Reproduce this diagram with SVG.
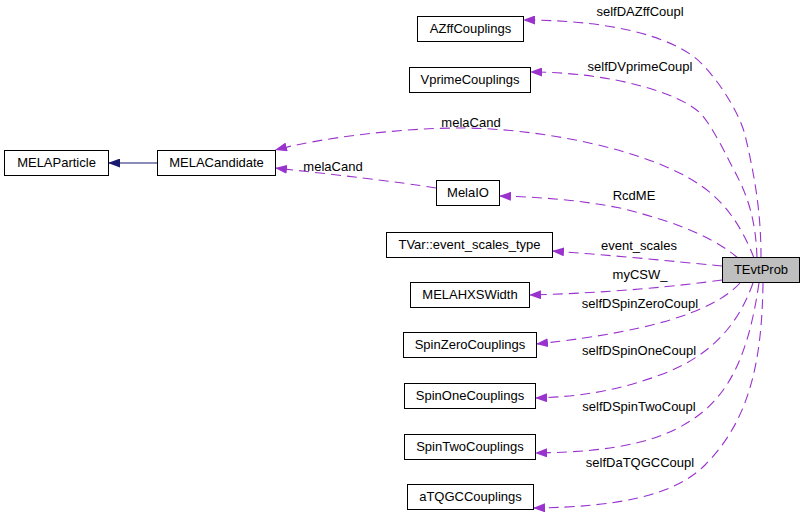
<svg xmlns="http://www.w3.org/2000/svg" width="805" height="516" viewBox="0 0 805 516">
<style>
  .box { fill: #ffffff; stroke: #000000; stroke-width: 1; }
  .root { fill: #bfbfbf; stroke: #000000; stroke-width: 1; }
  .nt { font-family: "Liberation Sans", Arial, sans-serif; font-size: 13px; fill: #000000; text-anchor: middle; }
  .lbl { font-family: "Liberation Sans", Arial, sans-serif; font-size: 13px; fill: #000000; text-anchor: middle; }
  .dep { fill: none; stroke: #9a32cd; stroke-width: 1.1; stroke-dasharray: 10,6; marker-end: url(#arrP); }
  .inh { fill: none; stroke: #191970; stroke-width: 1.1; marker-end: url(#arrB); }
</style>
<defs>
  <marker id="arrP" markerUnits="userSpaceOnUse" viewBox="0 0 12 9" refX="12" refY="4.5" markerWidth="12" markerHeight="9" orient="auto">
    <path d="M0,0 L12,4.5 L0,9 z" fill="#9a32cd" stroke="none"/>
  </marker>
  <marker id="arrB" markerUnits="userSpaceOnUse" viewBox="0 0 12 9" refX="12" refY="4.5" markerWidth="12" markerHeight="9" orient="auto">
    <path d="M0,0 L12,4.5 L0,9 z" fill="#191970" stroke="none"/>
  </marker>
</defs>

<g id="connectors">
  <path class="inh" d="M157,163 L108,163"/>
  <path class="dep" d="M761,258 C761,220 757,185 745,135 C740,115 722,85 703,65 C680,40 620,20 523,20"/>
  <path class="dep" d="M757,258 C756,225 750,200 735,172 C727,157 712,125 700,113 C680,93 610,72 530,72"/>
  <path class="dep" d="M754,258 C745,235 730,205 700,185 C650,150 540,128 460,128 C400,128 320,138 275,150"/>
  <path class="dep" d="M436,188 C400,182 330,174 275,168"/>
  <path class="dep" d="M738,258 C720,243 690,225 620,208 C580,200 540,197 499,196"/>
  <path class="dep" d="M722,266 C670,261 610,255 552,251"/>
  <path class="dep" d="M722,280 C680,286 610,293 529,295"/>
  <path class="dep" d="M740,283 C720,305 670,330 536,344"/>
  <path class="dep" d="M753,283 C740,320 715,355 660,375 C620,390 580,397 535,398"/>
  <path class="dep" d="M759,283 C752,330 740,380 705,410 C670,440 620,452 535,453"/>
  <path class="dep" d="M763,283 C762,360 750,420 705,465 C675,495 620,507 533,508"/>
  <text class="lbl" x="640" y="16">selfDAZffCoupl</text>
  <text class="lbl" x="640" y="71">selfDVprimeCoupl</text>
  <text class="lbl" x="471" y="127">melaCand</text>
  <text class="lbl" x="333" y="171">melaCand</text>
  <text class="lbl" x="634" y="200">RcdME</text>
  <text class="lbl" x="639" y="250">event_scales</text>
  <text class="lbl" x="640" y="279">myCSW_</text>
  <text class="lbl" x="640" y="308">selfDSpinZeroCoupl</text>
  <text class="lbl" x="639" y="355">selfDSpinOneCoupl</text>
  <text class="lbl" x="639" y="411">selfDSpinTwoCoupl</text>
  <text class="lbl" x="640" y="467">selfDaTQGCCoupl</text>
</g>

<g id="TEvtProb">
  <rect class="root" x="722.5" y="257.5" width="77" height="25"/>
  <text class="nt" x="761" y="274">TEvtProb</text>
</g>
<g id="AZffCouplings">
  <rect class="box" x="417.5" y="16.5" width="106" height="25"/>
  <text class="nt" x="470.5" y="33">AZffCouplings</text>
</g>
<g id="VprimeCouplings">
  <rect class="box" x="409.5" y="67.5" width="121" height="25"/>
  <text class="nt" x="470" y="84">VprimeCouplings</text>
</g>
<g id="MELAParticle">
  <rect class="box" x="4.5" y="150.5" width="104" height="25"/>
  <text class="nt" x="56.5" y="167">MELAParticle</text>
</g>
<g id="MELACandidate">
  <rect class="box" x="157.5" y="150.5" width="118" height="25"/>
  <text class="nt" x="216.5" y="167">MELACandidate</text>
</g>
<g id="MelaIO">
  <rect class="box" x="436.5" y="180.5" width="63" height="25"/>
  <text class="nt" x="468" y="197">MelaIO</text>
</g>
<g id="TVar_event_scales_type">
  <rect class="box" x="386.5" y="232.5" width="166" height="25"/>
  <text class="nt" x="469.5" y="249">TVar::event_scales_type</text>
</g>
<g id="MELAHXSWidth">
  <rect class="box" x="410.5" y="282.5" width="119" height="25"/>
  <text class="nt" x="470" y="299">MELAHXSWidth</text>
</g>
<g id="SpinZeroCouplings">
  <rect class="box" x="403.5" y="332.5" width="133" height="25"/>
  <text class="nt" x="470" y="349">SpinZeroCouplings</text>
</g>
<g id="SpinOneCouplings">
  <rect class="box" x="404.5" y="383.5" width="131" height="25"/>
  <text class="nt" x="470" y="400">SpinOneCouplings</text>
</g>
<g id="SpinTwoCouplings">
  <rect class="box" x="404.5" y="434.5" width="131" height="25"/>
  <text class="nt" x="470" y="451">SpinTwoCouplings</text>
</g>
<g id="aTQGCCouplings">
  <rect class="box" x="407.5" y="484.5" width="126" height="25"/>
  <text class="nt" x="470.5" y="501">aTQGCCouplings</text>
</g>
</svg>
